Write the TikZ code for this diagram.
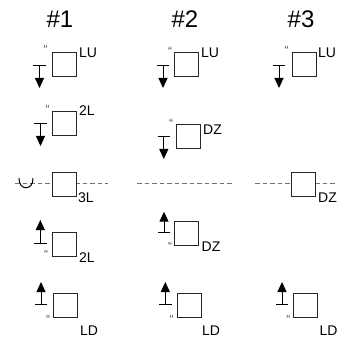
\documentclass[tikz,border=0pt]{standalone}
\usepackage{fontspec}
\setmainfont{Liberation Sans}
\usetikzlibrary{arrows.meta}
\begin{document}
\begin{tikzpicture}[x=1pt,y=-1pt,
  sq/.style={draw=black!85, fill=white, line width=1pt, minimum size=24pt, inner sep=0pt, anchor=north west},
  hdr/.style={font=\fontsize{24}{24}\selectfont, inner sep=0pt, anchor=base},
  lbl/.style={font=\fontsize{14}{14}\selectfont, inner sep=0pt, anchor=base west},
  qm/.style={font=\fontsize{12}{12}\selectfont, text=black!70, inner sep=0pt, anchor=base},
  arr/.style={line width=1pt, {Bar[width=12.5pt,line width=1pt]}-{Triangle[width=9pt,length=10pt]}},
  axisline/.style={draw=black!55, line width=1pt, dash pattern=on 4.5pt off 3pt}]
\useasboundingbox (0,0) rectangle (342,339);
% headers
\node[hdr] (h1) at (60,27.5) {\#1};
\node[hdr] (h2) at (185,27.5) {\#2};
\node[hdr] (h3) at (301,27.5) {\#3};
% dashed axes (row 3)
\coordinate (d1a) at (15,183.3);
\coordinate (d1b) at (108,183.3);
\coordinate (d2a) at (137,183.3);
\coordinate (d2b) at (232,183.3);
\coordinate (d3a) at (255,183.3);
\coordinate (d3b) at (337,183.3);
\draw[axisline] (d1a) -- (d1b);
\draw[axisline] (d2a) -- (d2b);
\draw[axisline] (d3a) -- (d3b);
% cup symbol
\coordinate (c1a) at (19,178);
\coordinate (c1b) at (33,178);
\draw[line width=1pt] (c1a) .. controls (18.5,191) and (33.5,191) .. (c1b);
% boxes
\node[sq] (b11) at (52,52) {};
\node[sq] (b12) at (52,111) {};
\node[sq] (b13) at (52,172) {};
\node[sq] (b14) at (52,232) {};
\node[sq] (b15) at (53,293) {};
\node[sq] (b21) at (174,52) {};
\node[sq] (b22) at (176,124) {};
\node[sq] (b24) at (174,221) {};
\node[sq] (b25) at (177,293) {};
\node[sq] (b31) at (292,52) {};
\node[sq] (b33) at (291,172) {};
\node[sq] (b35) at (293,293) {};
% labels
\node[lbl] (l11) at (79,58) {LU};
\node[lbl] (l12) at (79,116) {2L};
\node[lbl] (l13) at (78,202) {3L};
\node[lbl] (l14) at (79,262) {2L};
\node[lbl] (l15) at (80,335.5) {LD};
\node[lbl] (l21) at (201,58) {LU};
\node[lbl] (l22) at (203,135) {DZ};
\node[lbl] (l24) at (201.5,251) {DZ};
\node[lbl] (l25) at (202,335.5) {LD};
\node[lbl] (l31) at (318,58) {LU};
\node[lbl] (l33) at (318,202.7) {DZ};
\node[lbl] (l35) at (319.5,335.5) {LD};
% quote marks
\node[qm] (q11) at (45.5,54) {“};
\node[qm] (q12) at (47.5,114) {“};
\node[qm] (q14) at (46,258.5) {“};
\node[qm] (q15) at (48,323) {“};
\node[qm] (q21) at (170,55.5) {“};
\node[qm] (q22) at (171,128) {“};
\node[qm] (q24) at (170,250.5) {“};
\node[qm] (q25) at (171.5,323) {“};
\node[qm] (q31) at (286.7,54.5) {“};
\node[qm] (q35) at (288.3,323) {“};
% arrows
\coordinate (a11s) at (39.5,65);   \coordinate (a11e) at (39.5,88);
\coordinate (a12s) at (40.5,123.3); \coordinate (a12e) at (40.5,146);
\coordinate (a14s) at (40.3,244);  \coordinate (a14e) at (40.3,220);
\coordinate (a15s) at (41,305);    \coordinate (a15e) at (41,282);
\coordinate (a21s) at (163,65);    \coordinate (a21e) at (163,88);
\coordinate (a22s) at (163.8,136); \coordinate (a22e) at (163.8,159);
\coordinate (a24s) at (164,233.3); \coordinate (a24e) at (164,211.7);
\coordinate (a25s) at (165.3,305); \coordinate (a25e) at (165.3,282);
\coordinate (a31s) at (279,65);    \coordinate (a31e) at (279,88);
\coordinate (a35s) at (282,305);   \coordinate (a35e) at (282,282);
\foreach \a in {11,12,14,15,21,22,24,25,31,35}
  \draw[arr] (a\a s) -- (a\a e);
\end{tikzpicture}
\end{document}
